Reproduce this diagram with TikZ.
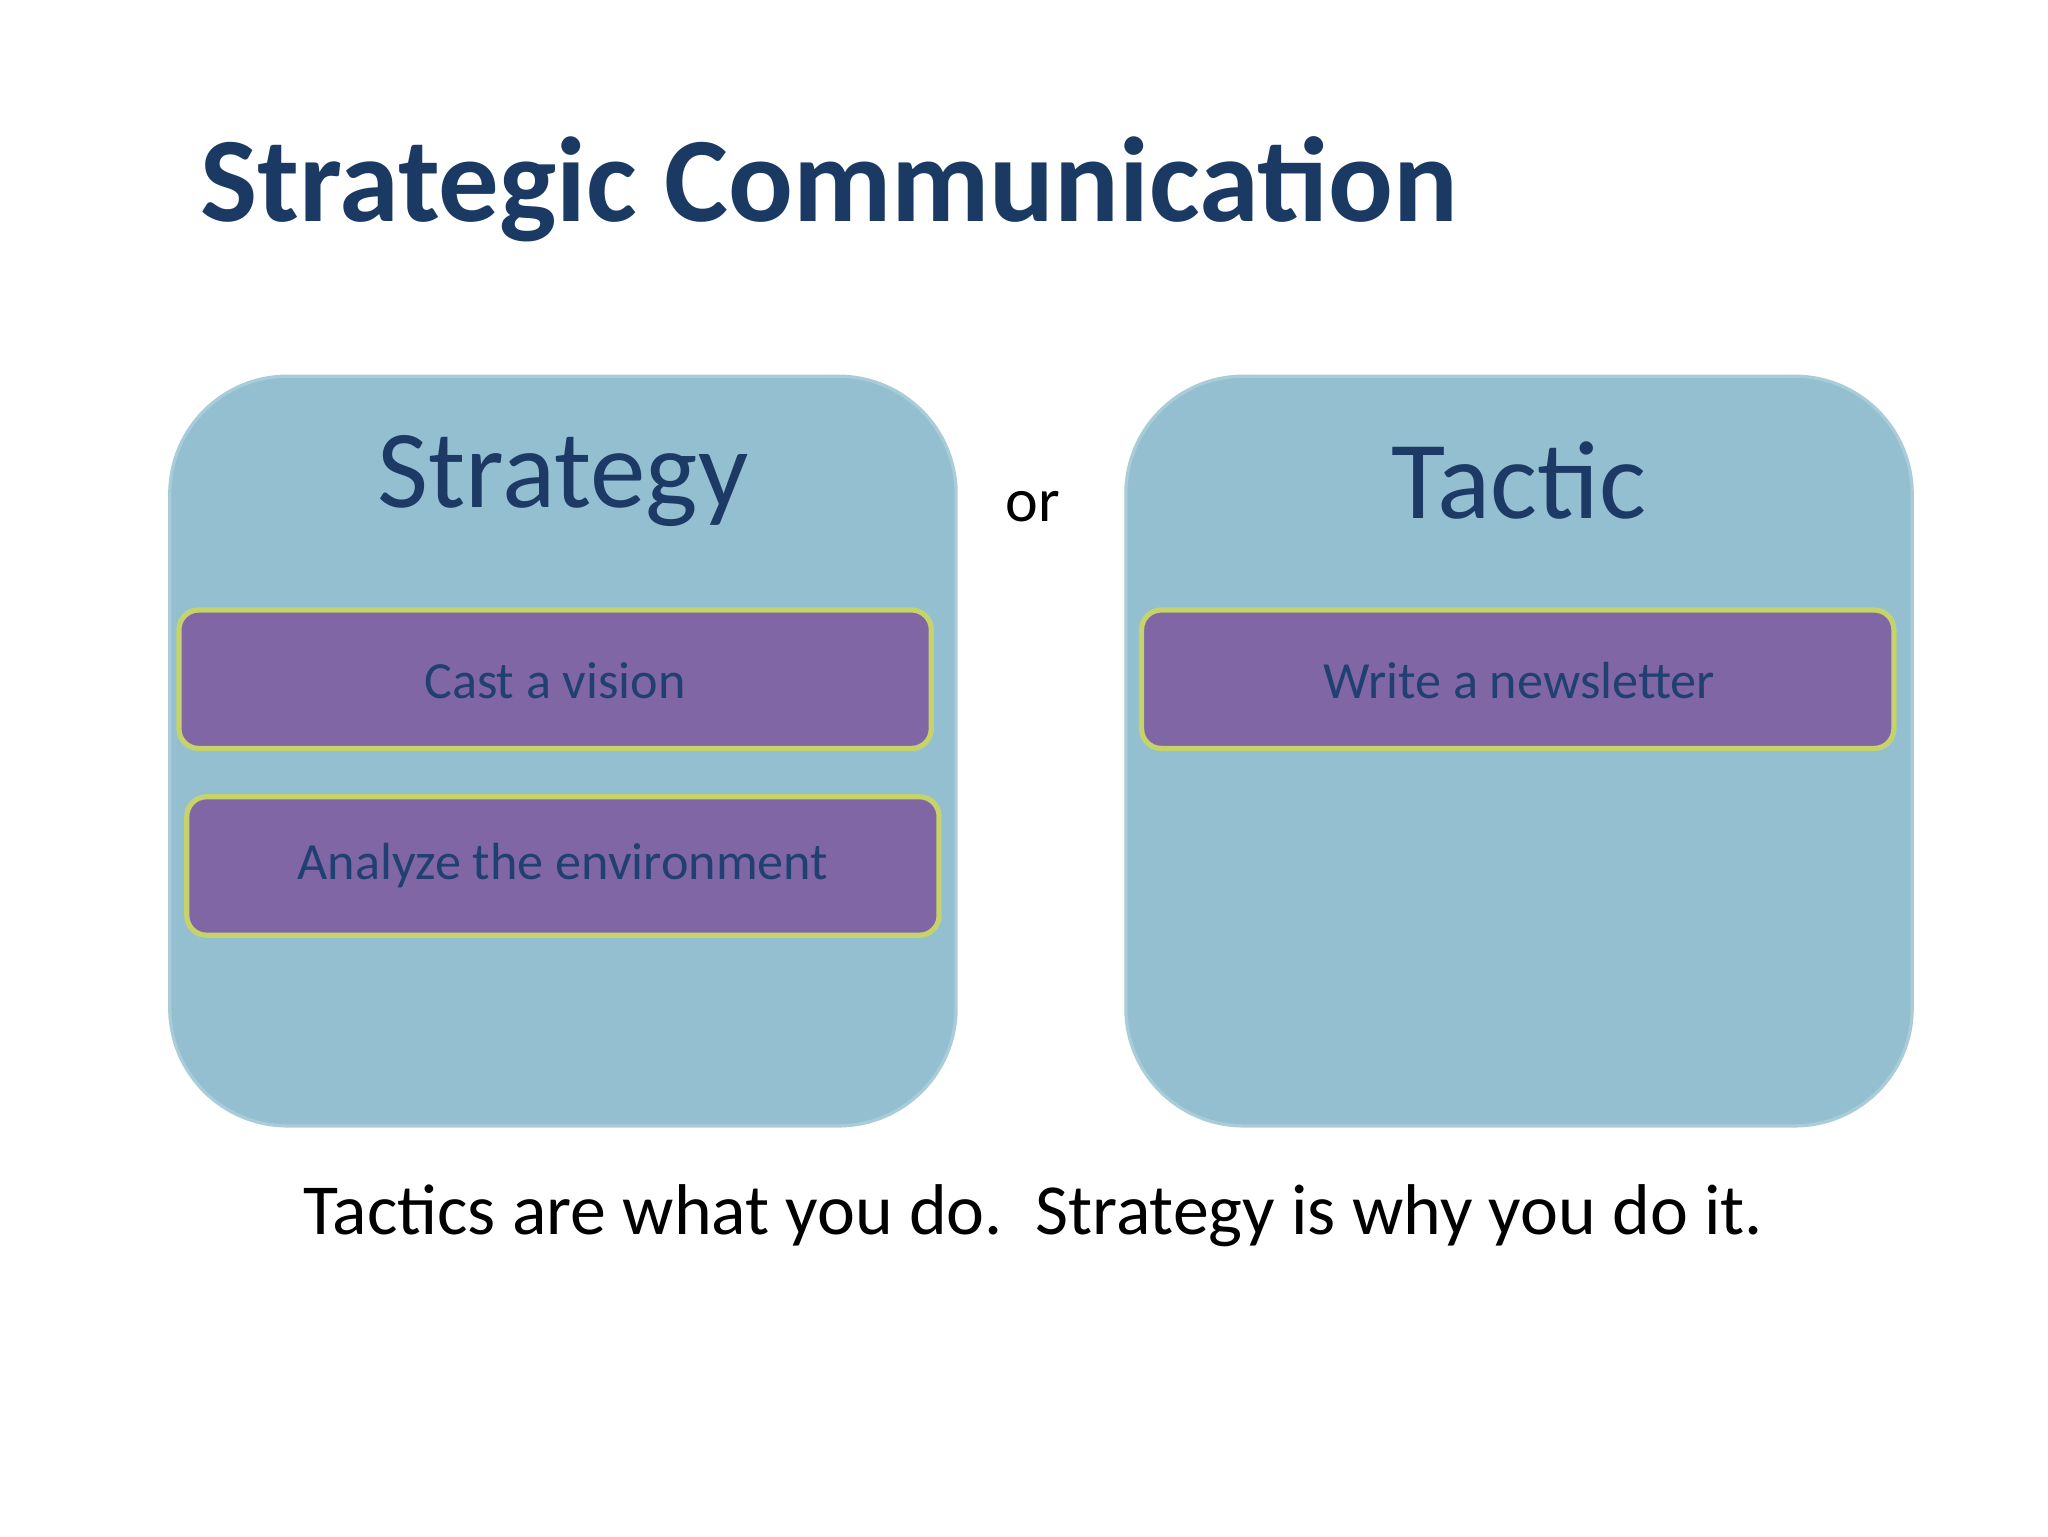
\documentclass[tikz,border=0pt]{standalone}
\usepackage{fontspec}
\setmainfont{Carlito}
\definecolor{boxblue}{HTML}{93BFD0}
\definecolor{barpurple}{HTML}{8166A6}
\definecolor{barline}{HTML}{C5D36A}
\definecolor{txtblue}{HTML}{1F4070}
\definecolor{titleblue}{HTML}{1B3A63}
\begin{document}
\begin{tikzpicture}[x=0.4pt,y=-0.4pt,
  bigbox/.style={fill=boxblue,draw=boxblue!80!white,line width=1pt,rounded corners=36pt},
  bar/.style={fill=barpurple,draw=barline,line width=1.6pt,rounded corners=6pt},
  bartext/.style={text=txtblue,font=\fontsize{16}{18}\selectfont},
  head/.style={text=txtblue!90!black,font=\fontsize{34}{40}\selectfont}]
\useasboundingbox[fill=white] (0,0) rectangle (1568,1176);
\node[anchor=west,text=titleblue,font=\fontsize{37}{44}\selectfont\bfseries,inner sep=0] (title) at (153,145) {Strategic Communication};
\path[bigbox] (130,288) rectangle (732,862);
\path[bigbox] (862,288) rectangle (1464,862);
\node[head] (strat) at (431,368) {Strategy};
\node[head] (tac) at (1163,368) {Tactic};
\node[font=\fontsize{19}{22}\selectfont] (or) at (791,388) {or};
\path[bar] (137,467) rectangle (713,573);
\node[bartext] (b1) at (425,521) {Cast a vision};
\path[bar] (143,610) rectangle (719,716);
\node[bartext] (b2) at (431,663) {Analyze the environment};
\path[bar] (874,467) rectangle (1450,573);
\node[bartext] (b3) at (1163,521) {Write a newsletter};
\node[font=\fontsize{22}{26}\selectfont] (foot) at (791,931) {Tactics are what you do.\ \ Strategy is why you do it.};
\end{tikzpicture}
\end{document}
